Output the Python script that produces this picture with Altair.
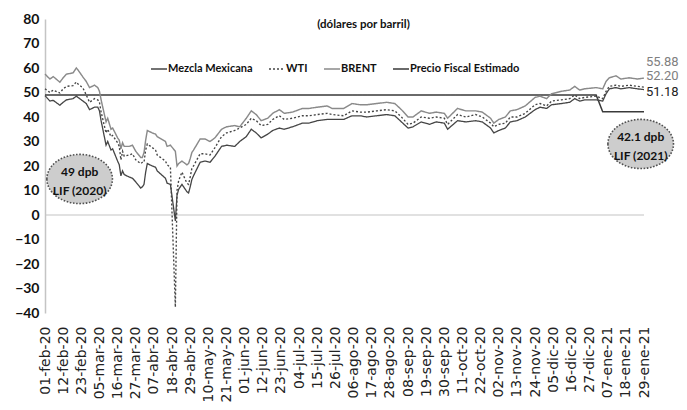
import altair as alt
import pandas as pd

# ---------------- data ----------------
fechas = [
    "2020-02-01", "2020-02-04", "2020-02-06", "2020-02-10", "2020-02-12", "2020-02-14",
    "2020-02-18", "2020-02-20", "2020-02-21", "2020-02-24", "2020-02-26", "2020-02-28",
    "2020-03-02", "2020-03-04", "2020-03-05", "2020-03-06", "2020-03-09", "2020-03-10",
    "2020-03-12", "2020-03-13", "2020-03-16", "2020-03-17", "2020-03-18", "2020-03-19",
    "2020-03-20", "2020-03-23", "2020-03-25", "2020-03-27", "2020-03-30", "2020-03-31",
    "2020-04-01", "2020-04-02", "2020-04-03", "2020-04-06", "2020-04-08", "2020-04-09",
    "2020-04-14", "2020-04-15", "2020-04-17", "2020-04-20", "2020-04-21", "2020-04-22",
    "2020-04-24", "2020-04-27", "2020-04-28", "2020-04-29", "2020-04-30", "2020-05-01",
    "2020-05-05", "2020-05-08", "2020-05-11", "2020-05-14", "2020-05-18", "2020-05-21",
    "2020-05-26", "2020-05-29", "2020-06-02", "2020-06-05", "2020-06-08", "2020-06-11",
    "2020-06-15", "2020-06-18", "2020-06-22", "2020-06-25", "2020-06-30", "2020-07-06",
    "2020-07-10", "2020-07-15", "2020-07-21", "2020-07-24", "2020-07-31", "2020-08-05",
    "2020-08-10", "2020-08-14", "2020-08-20", "2020-08-26", "2020-08-31", "2020-09-04",
    "2020-09-08", "2020-09-11", "2020-09-16", "2020-09-21", "2020-09-25", "2020-09-30",
    "2020-10-02", "2020-10-08", "2020-10-13", "2020-10-19", "2020-10-23", "2020-10-28",
    "2020-10-30", "2020-11-02", "2020-11-06", "2020-11-09", "2020-11-13", "2020-11-18",
    "2020-11-24", "2020-11-27", "2020-12-01", "2020-12-04", "2020-12-10", "2020-12-15",
    "2020-12-18", "2020-12-21", "2020-12-24", "2020-12-31", "2021-01-04", "2021-01-06",
    "2021-01-08", "2021-01-12", "2021-01-15", "2021-01-20", "2021-01-25", "2021-01-29",
]
brent = [
    57.5, 55.5, 56.5, 54.2, 56.0, 57.5, 58.0, 60.0, 59.2, 56.3, 54.5, 52.0,
    53.0, 52.0, 50.5, 47.0, 38.0, 39.5, 35.0, 35.5, 31.5, 30.5, 27.0, 29.5,
    28.0, 28.0, 28.5, 26.0, 23.5, 23.5, 25.5, 30.5, 34.5, 33.5, 33.0, 32.0,
    30.0, 28.0, 28.5, 26.0, 20.0, 21.0, 22.0, 20.5, 21.0, 23.0, 25.5, 26.5,
    31.0, 31.0, 30.0, 31.5, 35.0, 36.0, 36.5, 36.0, 39.5, 42.5, 41.0, 38.5,
    39.5, 41.5, 43.0, 41.5, 42.0, 43.5, 43.5, 44.0, 44.5, 43.5, 43.5, 45.5,
    45.0, 45.0, 45.5, 46.0, 45.5, 43.0, 40.0, 40.0, 42.5, 41.5, 42.0, 41.5,
    39.5, 43.5, 42.5, 42.5, 42.0, 39.5, 37.5, 39.0, 40.0, 42.5, 43.0, 44.5,
    48.0, 48.5, 47.5, 49.5, 50.5, 51.0, 52.5, 51.0, 51.5, 52.0, 51.5, 54.5,
    56.0, 56.8, 55.5, 56.0, 55.5, 55.88,
]
wti = [
    51.5, 50.0, 51.0, 49.8, 51.5, 52.5, 52.8, 54.3, 53.5, 51.8, 49.0, 46.0,
    47.5, 47.0, 46.0, 42.0, 33.5, 35.0, 32.0, 32.5, 29.5, 28.0, 22.5, 26.0,
    24.0, 24.5, 25.0, 22.5, 21.0, 21.5, 21.5, 26.5, 29.0, 27.5, 26.5, 24.5,
    22.0, 20.5, 19.5, -37.6, 10.0, 14.0, 17.5, 13.0, 12.5, 15.5, 19.0, 20.0,
    25.0, 25.0, 24.5, 27.5, 32.0, 33.5, 34.5, 35.5, 37.0, 39.5, 38.5, 36.5,
    37.0, 39.0, 40.5, 39.0, 39.5, 40.5, 40.5, 41.0, 41.5, 41.0, 40.5, 42.5,
    42.0, 42.0, 42.5, 43.0, 42.5, 40.0, 37.0, 37.5, 40.0, 39.5, 40.0, 39.5,
    37.0, 41.0, 40.0, 41.0, 40.0, 37.5, 36.0, 37.0, 37.5, 40.0, 40.0, 41.5,
    45.0, 45.5, 44.5, 46.5, 47.0, 47.5, 49.0, 47.5, 48.0, 48.5, 47.5, 50.5,
    52.5, 53.0, 52.5, 53.0, 52.5, 52.20,
]
mezcla = [
    48.7, 46.5, 46.8, 44.8, 46.0, 47.0, 47.5, 48.5, 48.0, 46.5, 45.5, 43.0,
    44.0, 44.0, 42.5, 38.5, 28.5, 30.0, 26.5, 27.0, 22.0, 20.5, 16.0, 18.0,
    16.5, 15.5, 15.0, 13.5, 11.0, 11.5, 12.5, 17.5, 21.0, 20.0, 19.5, 18.0,
    15.0, 13.0, 12.5, -2.4, 8.0, 10.5, 12.5, 9.5, 9.0, 11.5, 14.5, 16.0,
    21.5, 22.0, 21.5, 24.0, 28.0, 28.5, 28.0, 30.0, 32.0, 35.0, 33.5, 31.5,
    33.0, 34.5, 35.5, 35.0, 36.0, 37.5, 37.5, 38.5, 39.0, 39.0, 39.0, 40.5,
    40.5, 40.0, 40.5, 41.0, 40.5, 38.0, 35.5, 36.0, 38.0, 37.0, 38.0, 37.5,
    35.0, 38.5, 38.0, 38.5, 38.0, 35.5, 33.5, 34.5, 35.5, 38.0, 38.5, 40.0,
    43.0, 44.0, 43.5, 45.0, 45.5, 46.0, 47.5, 46.5, 47.0, 47.0, 46.5, 49.5,
    51.5, 52.0, 51.5, 52.0, 51.5, 51.18,
]
fiscal_fechas = ["2020-02-01", "2020-12-31", "2021-01-04", "2021-01-29"]
fiscal = [49.0, 49.0, 42.1, 42.1]

series = ["Mezcla Mexicana", "WTI", "BRENT", "Precio Fiscal Estimado"]
x_labels = [
    "01-feb-20", "12-feb-20", "23-feb-20", "05-mar-20", "16-mar-20", "27-mar-20",
    "07-abr-20", "18-abr-20", "29-abr-20", "10-may-20", "21-may-20", "01-jun-20",
    "12-jun-20", "23-jun-20", "04-jul-20", "15-jul-20", "26-jul-20", "06-ago-20",
    "17-ago-20", "28-ago-20", "08-sep-20", "19-sep-20", "30-sep-20", "11-oct-20",
    "22-oct-20", "02-nov-20", "13-nov-20", "24-nov-20", "05-dic-20", "16-dic-20",
    "27-dic-20", "07-ene-21", "18-ene-21", "29-ene-21",
]
y_ticks = [-40, -30, -20, -10, 0, 10, 20, 30, 40, 50, 60, 70, 80]

titulo = "(dólares por barril)"
notas_texto = ["49 dpb\nLIF (2020)", "42.1 dpb\nLIF (2021)"]
notas_fecha = ["2020-02-22", "2021-01-27"]
notas_valor = [14.7, 29.0]

# ---------------- build tables ----------------
rows = []
for f, v in zip(fiscal_fechas, fiscal):
    rows.append({"fecha": f, "valor": v, "serie": "Precio Fiscal Estimado"})
for f, b, w, m in zip(fechas, brent, wti, mezcla):
    rows.append({"fecha": f, "valor": b, "serie": "BRENT"})
    rows.append({"fecha": f, "valor": w, "serie": "WTI"})
    rows.append({"fecha": f, "valor": m, "serie": "Mezcla Mexicana"})
df = pd.DataFrame(rows)

meses = {"ene": 1, "feb": 2, "mar": 3, "abr": 4, "may": 5, "jun": 6,
         "jul": 7, "ago": 8, "sep": 9, "oct": 10, "nov": 11, "dic": 12}


def to_ms(lbl):
    d, m, y = lbl.split("-")
    return int(pd.Timestamp(year=2000 + int(y), month=meses[m], day=int(d), tz="UTC").timestamp() * 1000)


tick_ms = [to_ms(l) for l in x_labels]

FONT_B = "Lato"

label_expr = (
    "(utcdate(datum.value) < 10 ? '0' : '') + utcdate(datum.value) + '-' + "
    "['ene','feb','mar','abr','may','jun','jul','ago','sep','oct','nov','dic'][utcmonth(datum.value)]"
    " + '-' + utcFormat(datum.value, '%y')"
)

x_enc = alt.X(
    "fecha:T",
    scale=alt.Scale(type="utc", domain=[tick_ms[0], tick_ms[-1]]),
    axis=alt.Axis(
        values=tick_ms, labelExpr=label_expr, labelAngle=-90, labelOverlap=False,
        domain=False, ticks=False, tickSize=0, grid=False, title=None,
        labelFont="DejaVu Sans", labelFontSize=14, labelColor="#222222", labelPadding=13,
    ),
)
y_enc = alt.Y(
    "valor:Q",
    scale=alt.Scale(domain=[-40, 80], nice=False, zero=False),
    axis=alt.Axis(
        values=y_ticks, grid=False, ticks=False, tickSize=0, title=None,
        domainColor="#c4c4c4", domainWidth=1.5,
        labelFont=FONT_B, labelFontWeight="bold", labelFontSize=14, labelColor="#111111",
        labelPadding=6,
    ),
)

legend = alt.Legend(
    title=None, orient="none", legendX=105, legendY=41, direction="horizontal",
    symbolType="stroke", symbolSize=256, columnPadding=13, labelOffset=0,
    labelFont=FONT_B, labelFontWeight="bold", labelFontSize=11, labelColor="#111111",
)

lines = alt.Chart(df).mark_line(interpolate="linear").encode(
    x=x_enc,
    y=y_enc,
    color=alt.Color("serie:N", scale=alt.Scale(domain=series, range=["#454545", "#454545", "#8a8a8a", "#3a3a3a"]), legend=legend),
    strokeDash=alt.StrokeDash("serie:N", scale=alt.Scale(domain=series, range=[[1, 0], [2, 2], [1, 0], [1, 0]]), legend=legend),
    strokeWidth=alt.StrokeWidth("serie:N", scale=alt.Scale(domain=series, range=[1.3, 1.5, 3.2, 3.0]), legend=legend),
    detail="serie:N",
)

zero_rule = alt.Chart(pd.DataFrame({"valor": [0]})).mark_rule(color="#c4c4c4", strokeWidth=1.2).encode(y=y_enc)

title_df = pd.DataFrame({"fecha": ["2020-08-12"], "valor": [77.5], "txt": [titulo]})
title_mark = alt.Chart(title_df).mark_text(
    font=FONT_B, fontWeight="bold", fontSize=11.5, color="#111111"
).encode(x=x_enc, y=y_enc, text="txt:N")

notas_df = pd.DataFrame({"fecha": notas_fecha, "valor": notas_valor, "txt": notas_texto})
ellipse_path = "M -1 0 A 1 0.75 0 1 1 1 0 A 1 0.75 0 1 1 -1 0 Z"
ellipses = alt.Chart(notas_df).mark_point(
    shape=ellipse_path, size=4300, filled=True, fill="#cdcdcd", opacity=1,
    stroke="#505050", strokeWidth=1.6, strokeDash=[1.6, 1.6],
).encode(x=x_enc, y=y_enc)
ellipse_txt = alt.Chart(notas_df).mark_text(
    font=FONT_B, fontWeight="bold", fontSize=12, color="#111111", lineBreak="\n", lineHeight=19, dy=-7,
).encode(x=x_enc, y=y_enc, text="txt:N")

end_df = pd.DataFrame({"fecha": [fechas[-1]] * 3, "valor": [brent[-1], wti[-1], mezcla[-1]],
                       "txt": [f"{brent[-1]:.2f}", f"{wti[-1]:.2f}", f"{mezcla[-1]:.2f}"],
                       "serie": ["BRENT", "WTI", "Mezcla Mexicana"]})
end_layers = []
for s, dy, col in [("BRENT", -16, "#808080"), ("WTI", -11, "#808080"), ("Mezcla Mexicana", 2, "#222222")]:
    end_layers.append(
        alt.Chart(end_df[end_df.serie == s]).mark_text(
            align="left", dx=2, dy=dy, font="Roboto", fontSize=13, color=col
        ).encode(x=x_enc, y=y_enc, text="txt:N")
    )

chart = alt.layer(zero_rule, lines, title_mark, ellipses, ellipse_txt, *end_layers).properties(
    width=671, height=394,
    autosize=alt.AutoSizeParams(type="fit", contains="padding"),
    padding={"left": 6, "top": 4, "right": 0, "bottom": 0},
).configure_view(stroke=None).configure_legend(padding=0)

chart.save("out.html", embed_options={"renderer": "svg", "actions": False})
